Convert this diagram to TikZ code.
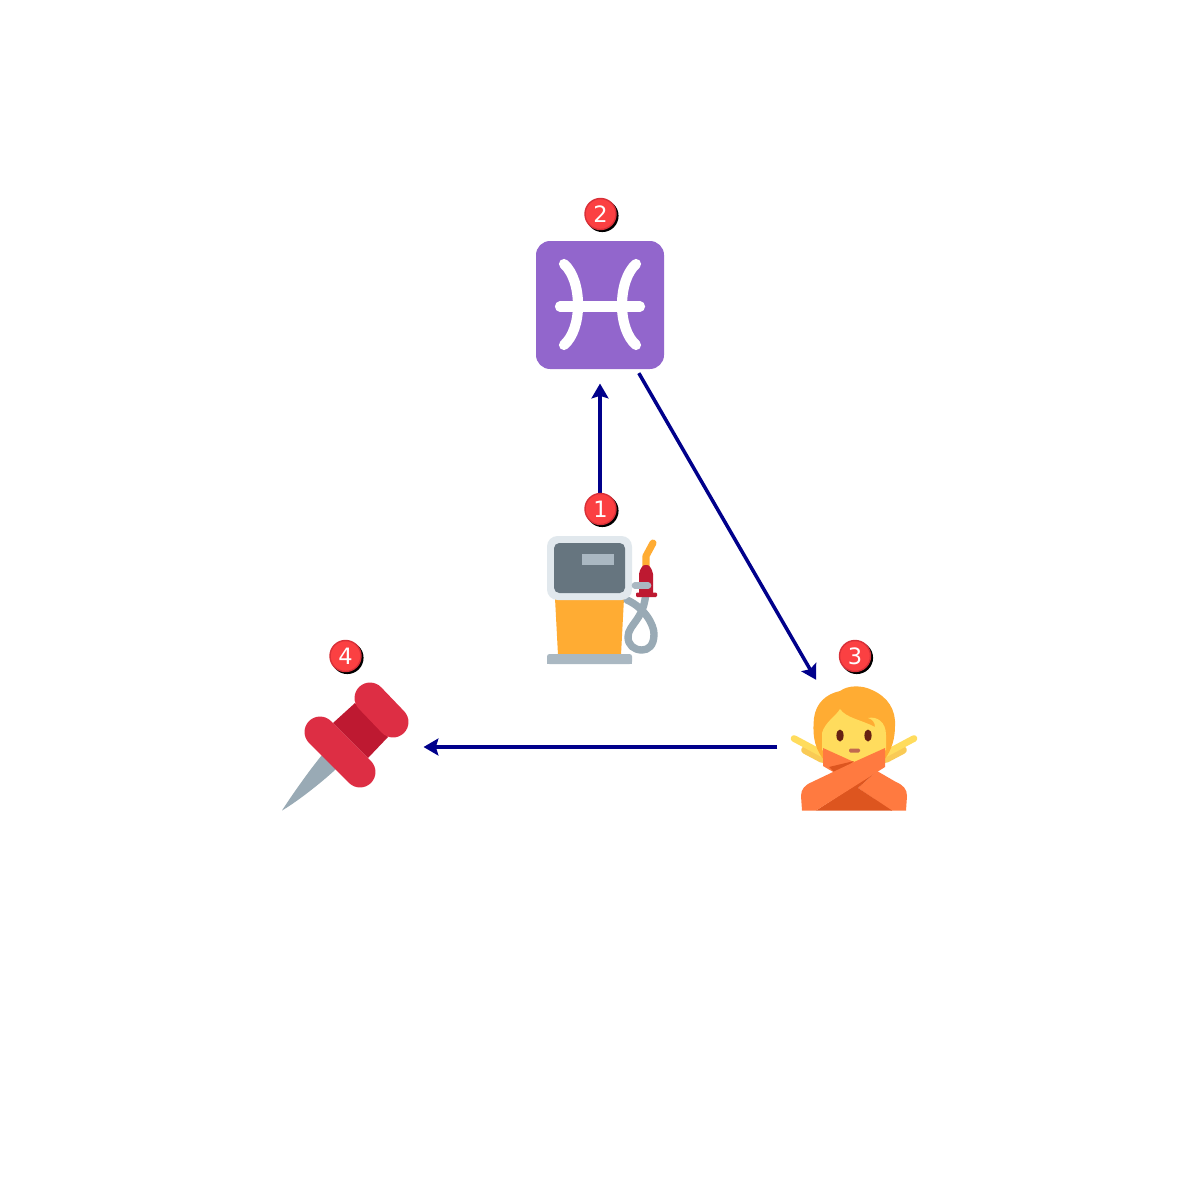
\documentclass[tikz,border=0pt]{standalone}
\usepackage{fontspec}
\setmainfont{DejaVu Sans}
\usetikzlibrary{arrows.meta}
\definecolor{arrowblue}{HTML}{00008B}
\definecolor{badgered}{HTML}{FB4042}
\definecolor{badgeedge}{HTML}{D83038}
\definecolor{pumpgold}{HTML}{FFAC33}
\definecolor{slate}{HTML}{66757F}
\definecolor{paleblue}{HTML}{E1E8ED}
\definecolor{hose}{HTML}{99AAB5}
\definecolor{basegrey}{HTML}{AAB8C2}
\definecolor{crimson}{HTML}{BE1931}
\definecolor{pinred}{HTML}{DD2E44}
\definecolor{pisces}{HTML}{9266CC}
\definecolor{skin}{HTML}{FFDC5D}
\definecolor{skindark}{HTML}{F9CA55}
\definecolor{sleeve}{HTML}{FF7A40}
\definecolor{sleevedark}{HTML}{DD551F}
\definecolor{browneye}{HTML}{662113}
\definecolor{mouth}{HTML}{C1694F}
\tikzset{
  x=0.01cm,y=-0.01cm,
  iconspot/.style={circle,minimum size=1.55cm,inner sep=0pt,outer sep=0pt},
  flow/.style={draw=arrowblue,line width=1pt,-{Stealth[length=4.2pt,width=4.8pt,inset=0.7pt]}},
  badge/.style={circle,minimum size=0.31cm,inner sep=0pt,fill=badgered,draw=badgeedge,line width=0.4pt,text=white,font=\fontsize{6.4pt}{6.4pt}\selectfont},
  shadowdisc/.style={circle,minimum size=0.325cm,inner sep=0pt,fill=black},
}
\begin{document}
\begin{tikzpicture}
\useasboundingbox[fill=white] (0,0) rectangle (1200,1200);
\node[iconspot] (pump) at (600,600) {};
\node[iconspot] (sign) at (600,306) {};
\node[iconspot] (person) at (855,747) {};
\node[iconspot] (pin) at (346,747) {};
\draw[flow] (pump) -- (sign);
\draw[flow] (sign) -- (person);
\draw[flow] (person) -- (pin);
% pump
\fill[pumpgold] (555,598) -- (624,598) -- (621,655) -- (558,655) -- cycle;
\fill[basegrey,rounded corners=0.7pt] (547,664) -- (547,654) -- (632,654) -- (632,664) -- cycle;
\fill[basegrey] (547,658) rectangle (632,664);
\draw[hose,line width=2.1pt,line cap=round,line join=round]
  (627,600) .. controls (645,608) and (654,625) .. (654,634)
  .. controls (654,646) and (648,650) .. (642,650)
  .. controls (634,650) and (628,645) .. (628,637)
  .. controls (628,624) and (645,620) .. (646,590);
\fill[paleblue,rounded corners=3pt] (547,536) rectangle (632,600);
\fill[slate,rounded corners=1.5pt] (554,543) rectangle (625,593);
\fill[basegrey] (582,554) rectangle (614,565);
\draw[pumpgold,line width=2pt,line cap=round,line join=round] (653,543) -- (646,556) -- (646,570);
\fill[crimson,rounded corners=0.6pt] (639,596) -- (639,572) -- (643,565) -- (649,565) -- (653,572) -- (653,596) -- cycle;
\fill[crimson,rounded corners=0.3pt] (636,592.5) rectangle (657,597);
\draw[basegrey,line width=1.9pt,line cap=round] (635,585.5) -- (648,585.5);
% pisces
\fill[pisces,rounded corners=4pt] (536,241) rectangle (664,369);
\draw[white,line width=2.9pt,line cap=round]
  (564,264) .. controls (573,272) and (578,288) .. (578,305) .. controls (578,322) and (573,337) .. (564,345);
\draw[white,line width=2.9pt,line cap=round]
  (636,264) .. controls (627,272) and (622,288) .. (622,305) .. controls (622,322) and (627,337) .. (636,345);
\draw[white,line width=2.9pt,line cap=round] (560,306.5) -- (640,306.5);
% person
\fill[skindark] (803,746) -- (823,752) -- (823,763) -- cycle;
\draw[skindark,line width=2.2pt,line cap=round] (805,750) -- (822,759);
\draw[skindark,line width=2.2pt,line cap=round] (903,750) -- (886,759);
\fill[skindark] (905,746) -- (885,752) -- (885,763) -- cycle;
\draw[skin,line width=1.9pt,line cap=round] (794,738.5) -- (823,754);
\draw[skin,line width=1.9pt,line cap=round] (914,738.5) -- (885,754);
\fill[pumpgold] (824,760) .. controls (812,745) and (813,730) .. (814,718)
  .. controls (816,703) and (826,694) .. (840,691)
  .. controls (848,685) and (862,685) .. (872,690)
  .. controls (888,697) and (896,710) .. (895,726)
  .. controls (895,738) and (892,750) .. (884,760) -- cycle;
\fill[skin] (822,750) -- (822,733) .. controls (825,722) and (836,716) .. (840,709)
  .. controls (846,718) and (862,720) .. (875,727)
  .. controls (875,722) and (872,719) .. (868,718)
  .. controls (877,716) and (886,722) .. (886,735)
  -- (886,750) -- (854,768) -- cycle;
\fill[browneye] (840,735.5) ellipse (3.6 and 6);
\fill[browneye] (868,735.5) ellipse (3.6 and 6);
\fill[mouth,rounded corners=0.4pt] (849,748.5) rectangle (860,752.5);
% left band, behind
\fill[sleeve] (823,748) -- (854,762) -- (840,771) -- (835,773) -- (823,766) -- cycle;
\fill[sleevedark] (829,767) -- (854,761) -- (842,771) -- (835,773) -- cycle;
\fill[sleeve] (858,788) -- (877,771) -- (896,782)
  .. controls (903,785) and (907,789) .. (907,796) -- (906,810.5) -- (891,810.5) -- cycle;
\fill[sleevedark] (816,810.5) -- (877,771) -- (858,788) -- (892,810.5) -- cycle;
% right band, in front
\fill[sleeve] (885,748) -- (885,767) -- (816,810.5) -- (802,810.5) -- (801,796)
  .. controls (801,789) and (805,785) .. (812,782) -- (854,762) -- cycle;
% pin
\fill[hose] (322,755) -- (336,769) .. controls (320,784) and (295,803) .. (282,810.5) .. controls (290,798) and (308,772) .. (322,755) -- cycle;
\fill[crimson] (355,703) -- (388,737) -- (368,758) -- (333,723) -- cycle;
\draw[pinred,line width=8.8pt,line cap=round] (370,698) -- (393,722);
\draw[pinred,line width=8.8pt,line cap=round] (320,732) -- (360,772);
% badges
\node[shadowdisc] at (602.3,215.8) {};
\node[badge] (b2) at (600.5,214) {2};
\node[shadowdisc] at (602.3,510.8) {};
\node[badge] (b1) at (600.5,509) {1};
\node[shadowdisc] at (856.8,657.8) {};
\node[badge] (b3) at (855,656) {3};
\node[shadowdisc] at (347.3,657.8) {};
\node[badge] (b4) at (345.5,656) {4};
\end{tikzpicture}
\end{document}
